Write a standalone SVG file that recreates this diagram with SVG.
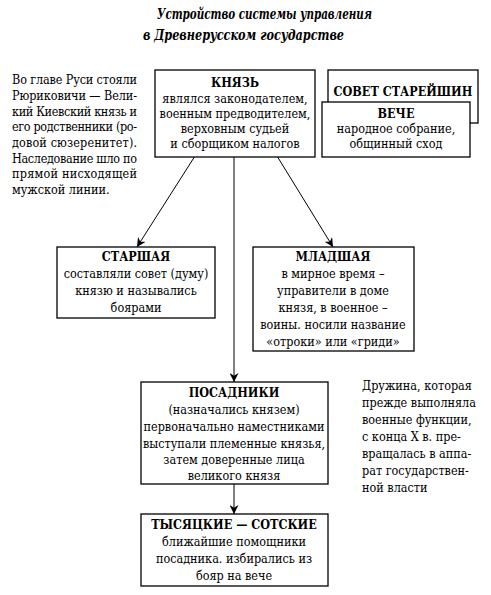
<svg xmlns="http://www.w3.org/2000/svg" width="491" height="595" viewBox="0 0 491 595">
<style>
.box{fill:#fff;stroke:#000;stroke-width:1.3}
.t{font-family:'DejaVu Serif Condensed','DejaVu Serif',serif;font-stretch:condensed;font-size:12.5px;fill:#000}
.c{text-anchor:middle}
.h{font-weight:bold;font-size:12.5px}
.title{font-family:'DejaVu Serif Condensed','DejaVu Serif',serif;font-stretch:condensed;font-size:15px;font-weight:bold;font-style:italic}
.ln{stroke:#000;stroke-width:1;fill:none}
</style>
<defs>
<marker id="ah" viewBox="0 0 10 10" refX="10" refY="5" markerWidth="9" markerHeight="9" orient="auto" markerUnits="userSpaceOnUse">
<path d="M0,0 L10,5 L0,10 L3,5 Z" fill="#000"/>
</marker>
</defs>
<rect width="491" height="595" fill="#fff"/>
<g id="title">
<text class="title" x="157" y="19" textLength="215" lengthAdjust="spacingAndGlyphs">Устройство системы управления</text>
<text class="title" x="143" y="40" textLength="201" lengthAdjust="spacingAndGlyphs">в Древнерусском государстве</text>
</g>
<g id="note-left" class="t">
<text x="12" y="84" textLength="125" lengthAdjust="spacing">Во главе Руси стояли</text>
<text x="12" y="100" textLength="125" lengthAdjust="spacing">Рюриковичи — Вели-</text>
<text x="12" y="115.5" textLength="125" lengthAdjust="spacing">кий Киевский князь и</text>
<text x="12" y="131" textLength="125" lengthAdjust="spacing">его родственники (ро-</text>
<text x="12" y="147" textLength="125" lengthAdjust="spacing">довой сюзеренитет).</text>
<text x="12" y="162.5" textLength="125" lengthAdjust="spacing">Наследование шло по</text>
<text x="12" y="178" textLength="125" lengthAdjust="spacing">прямой нисходящей</text>
<text x="12" y="194">мужской линии.</text>
</g>
<g id="connectors">
<line class="ln" x1="195" y1="156" x2="137" y2="247" marker-end="url(#ah)"/>
<line class="ln" x1="277" y1="156" x2="333" y2="247" marker-end="url(#ah)"/>
<line class="ln" x1="234" y1="156" x2="234" y2="382" marker-end="url(#ah)"/>
<line class="ln" x1="234" y1="484" x2="234" y2="514" marker-end="url(#ah)"/>
</g>
<g id="knyaz">
<rect class="box" x="155" y="70" width="160" height="87"/>
<text class="t c h" x="235" y="87">КНЯЗЬ</text>
<text class="t c" x="235" y="103">являлся законодателем,</text>
<text class="t c" x="235" y="118">военным предводителем,</text>
<text class="t c" x="235" y="133">верховным судьей</text>
<text class="t c" x="235" y="148">и сборщиком налогов</text>
</g>
<g id="sovet">
<rect class="box" x="328" y="70" width="150" height="53"/>
<text class="t c h" x="403" y="96">СОВЕТ СТАРЕЙШИН</text>
</g>
<g id="veche">
<rect class="box" x="322" y="102" width="148" height="55"/>
<text class="t c h" x="396" y="118">ВЕЧЕ</text>
<text class="t c" x="396" y="133">народное собрание,</text>
<text class="t c" x="396" y="148">общинный сход</text>
</g>
<g id="starshaya">
<rect class="box" x="57" y="247" width="158" height="71"/>
<text class="t c h" x="136" y="261">СТАРШАЯ</text>
<text class="t c" x="136" y="278">составляли совет (думу)</text>
<text class="t c" x="136" y="295">князю и назывались</text>
<text class="t c" x="136" y="312">боярами</text>
</g>
<g id="mladshaya">
<rect class="box" x="253" y="247" width="161" height="104"/>
<text class="t c h" x="333" y="261">МЛАДШАЯ</text>
<text class="t c" x="333" y="278">в мирное время –</text>
<text class="t c" x="333" y="295">управители в доме</text>
<text class="t c" x="333" y="312">князя, в военное –</text>
<text class="t c" x="333" y="329">воины. носили название</text>
<text class="t c" x="333" y="346">«отроки» или «гриди»</text>
</g>
<g id="posadniki">
<rect class="box" x="141" y="382" width="187" height="102"/>
<text class="t c h" x="234" y="397">ПОСАДНИКИ</text>
<text class="t c" x="234" y="414">(назначались князем)</text>
<text class="t c" x="234" y="431">первоначально наместниками</text>
<text class="t c" x="234" y="448">выступали племенные князья,</text>
<text class="t c" x="234" y="464">затем доверенные лица</text>
<text class="t c" x="234" y="480">великого князя</text>
</g>
<g id="druzhina" class="t">
<text x="362" y="390">Дружина, которая</text>
<text x="362" y="407">прежде выполняла</text>
<text x="362" y="424">военные функции,</text>
<text x="362" y="441">с конца X в. пре-</text>
<text x="362" y="458">вращалась в аппа-</text>
<text x="362" y="475">рат государствен-</text>
<text x="362" y="492">ной власти</text>
</g>
<g id="tysyatskie">
<rect class="box" x="141" y="514" width="187" height="72"/>
<text class="t c h" x="234" y="529">ТЫСЯЦКИЕ — СОТСКИЕ</text>
<text class="t c" x="234" y="546">ближайшие помощники</text>
<text class="t c" x="234" y="563">посадника. избирались из</text>
<text class="t c" x="234" y="580">бояр на вече</text>
</g>
</svg>
